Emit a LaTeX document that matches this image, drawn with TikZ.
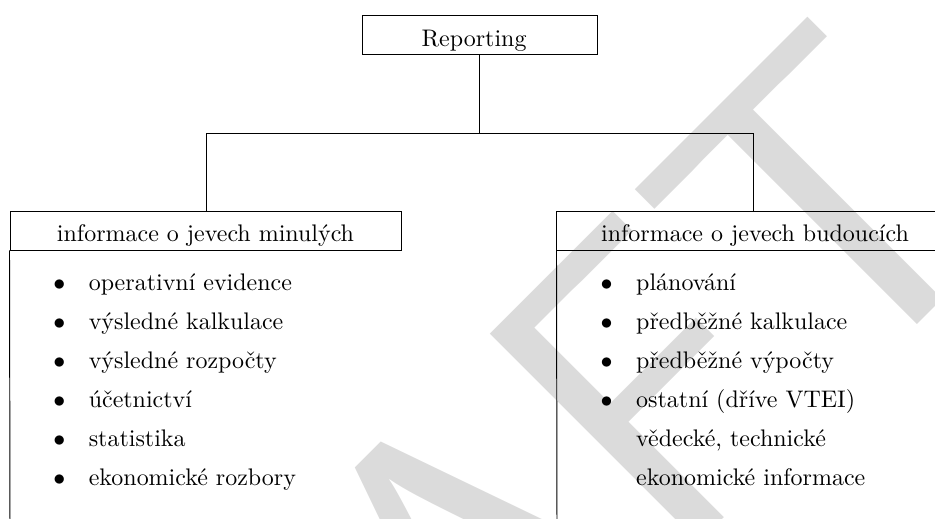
\documentclass[tikz,border=0pt]{standalone}
\usetikzlibrary{calc}

\tikzset{
  frame/.style={draw=black, line width=0.4pt, inner sep=0pt},
  rootbox/.style={frame, minimum width=98.0pt, minimum height=16.27pt},
  headbox/.style={frame, minimum height=16.27pt},
  label/.style={inner sep=0pt, anchor=base west},
  dot/.style={inner sep=0pt, anchor=base},
  link/.style={draw=black, line width=0.4pt},
  wmark/.style={inner sep=0pt, anchor=base west, rotate=45, text=black!14,
    font=\sffamily\fontsize{178}{178}\selectfont},
}

\begin{document}
\begin{tikzpicture}[x=0.4171pt, y=-0.4171pt]
  \useasboundingbox (0,0) rectangle (935,518);
  \clip (0,0) rectangle (935,518);

  % watermark behind everything
  \node[wmark] (wm) at (96,1146) {DRAFT};

  % root
  \node[rootbox] (rep) at (479.5,34.5) {};
  \node[inner sep=0pt, anchor=base] (reptext) at (474,46) {Reporting};

  % branch boxes
  \node[headbox, minimum width=163.1pt] (hl) at (205.5,230.5) {};
  \node[inner sep=0pt, anchor=base] (hltext) at (205.5,241) {informace o jevech minulých};
  \node[headbox, minimum width=165.2pt] (hr) at (755,230.5) {};
  \node[inner sep=0pt, anchor=base] (hrtext) at (755,241) {informace o jevech budoucích};

  % tree connectors
  \coordinate (j)  at (479.3,133);
  \coordinate (jl) at (206,133);
  \coordinate (jr) at (753,133);
  \draw[link] (rep.south -| j) -- (j);
  \draw[link] (jl) -- (jr);
  \draw[link] (jl) -- (jl |- hl.north);
  \draw[link] (jr) -- (jr |- hr.north);

  % open body frames
  \coordinate (lb) at (10,530);
  \coordinate (rb) at (557,530);
  \draw[link] (hl.south west) -- (lb);
  \draw[link] (hr.south west) -- (rb);

  % left list
  \foreach \y/\t [count=\i] in {290/operativní evidence, 329/výsledné kalkulace,
      368/výsledné rozpočty, 407/účetnictví, 446/statistika, 485/ekonomické rozbory} {
    \node[dot] (lbul\i) at (59.3,\y) {$\bullet$};
    \node[label] (litem\i) at (88.3,\y) {\t};
  }

  % right list
  \foreach \y/\t [count=\i] in {290/plánování, 329/předběžné kalkulace,
      368/předběžné výpočty, 407/ostatní (dříve VTEI)} {
    \node[dot] (rbul\i) at (606.7,\y) {$\bullet$};
    \node[label] (ritem\i) at (635.7,\y) {\t};
  }
  \node[label] (ritem5) at (635.7,446) {vědecké, technické};
  \node[label] (ritem6) at (635.7,485) {ekonomické informace};
\end{tikzpicture}
\end{document}
